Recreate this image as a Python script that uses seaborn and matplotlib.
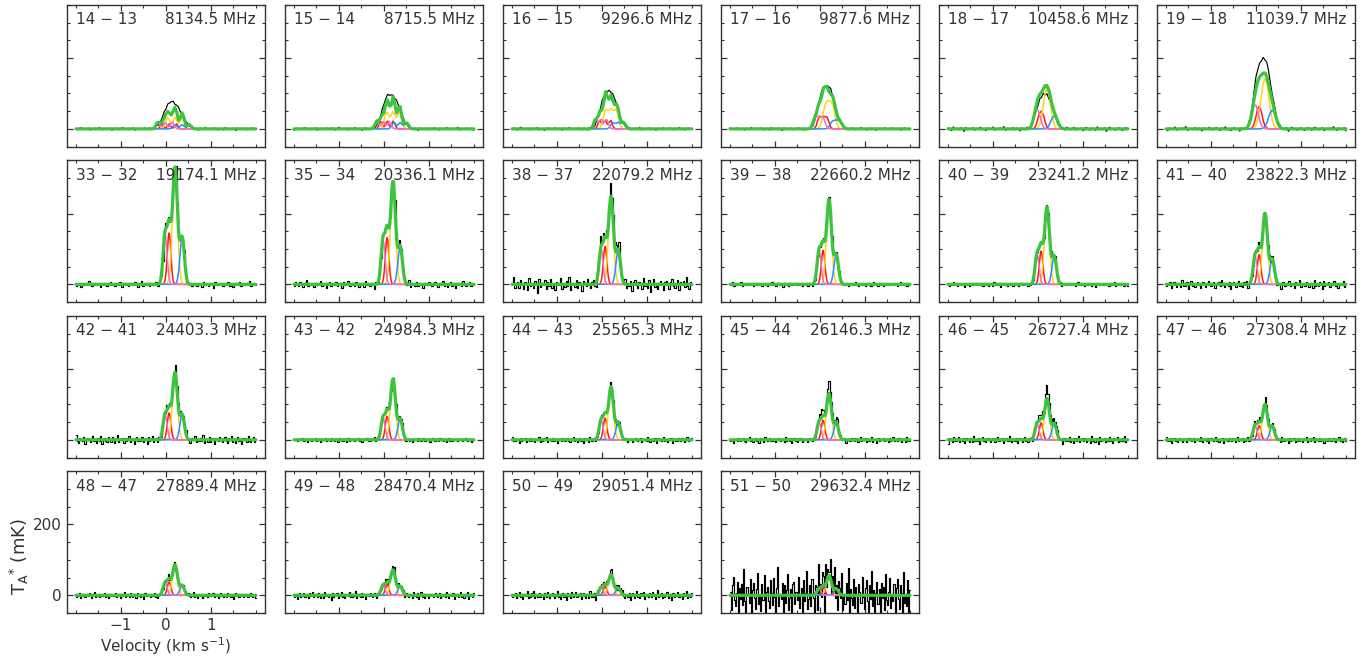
import numpy as np
import pandas as pd
import matplotlib
matplotlib.use("Agg")
import matplotlib.pyplot as plt
from matplotlib.ticker import MultipleLocator, FixedLocator
import seaborn as sns

# Rotational transitions and their rest frequencies (MHz)
transitions = ["14 − 13", "15 − 14", "16 − 15", "17 − 16", "18 − 17", "19 − 18",
               "33 − 32", "35 − 34", "38 − 37", "39 − 38", "40 − 39", "41 − 40",
               "42 − 41", "43 − 42", "44 − 43", "45 − 44", "46 − 45", "47 − 46",
               "48 − 47", "49 − 48", "50 − 49", "51 − 50"]
freqs_mhz = [8134.5, 8715.5, 9296.6, 9877.6, 10458.6, 11039.7,
             19174.1, 20336.1, 22079.2, 22660.2, 23241.2, 23822.3,
             24403.3, 24984.3, 25565.3, 26146.3, 26727.4, 27308.4,
             27889.4, 28470.4, 29051.4, 29632.4]

# Velocity components of the fit: centre (km/s), base width (km/s)
comp_names = ["red", "gold", "blue", "pink"]
comp_centers = [0.07, 0.20, 0.36, -0.02]
comp_sigmas = [0.040, 0.055, 0.050, 0.045]

# Peak brightness of each component per transition (mK)
amp_red = [14, 22, 24, 36, 50, 64, 145, 132, 107, 96, 94, 84,
           76, 67, 61, 55, 48, 40, 38, 30, 25, 22]
amp_gold = [33, 50, 58, 80, 114, 142, 330, 290, 248, 240, 218, 200,
            190, 172, 150, 131, 117, 100, 86, 72, 58, 56]
amp_blue = [12, 18, 19, 25, 36, 53, 130, 105, 95, 82, 78, 70,
            70, 58, 48, 48, 45, 38, 27, 25, 20, 18]
amp_pink = [17, 22, 26, 36, 53, 67, 140, 125, 100, 95, 85, 80,
            70, 62, 55, 50, 45, 40, 35, 28, 22, 18]

# Line broadening and hyperfine splitting (km/s) of the low-J lines
width_scale = [0.85, 0.85, 0.9, 1.0, 1.15, 1.6] + [1.0] * 16
hfs_split = [0.16, 0.14, 0.12, 0.09, 0.05, 0.0] + [0.0] * 16

# Observed spectra: peak (mK), width scale of the blended profile, rms noise (mK)
obs_peak = [76, 97, 107, 122, 98, 200, 335, 300, 281, 245, 222, 204,
            205, 178, 155, 162, 144, 115, 90, 82, 68, 70]
obs_width = [2.2, 2.0, 1.8, 1.7, 1.6, 1.6] + [1.0] * 16
noise_rms = [2, 2, 2, 2, 3, 3, 4, 5, 10, 3, 3, 6,
             6, 3, 4, 4, 5, 4, 4, 5, 6, 35]
noise_offset = [0, 20, 40, 60, 80, 100, 5, 37, 71, 103, 129, 151,
                13, 47, 83, 117, 141, 163, 29, 55, 91, 0]

# Channel residual pattern (units of rms)
residuals = [0.3, -1.2, 0.8, 1.5, -0.4, -0.9, 0.2, 1.1, -1.7, 0.6,
             -0.3, 0.9, -0.8, 2.1, -0.5, -1.4, 0.7, 0.1, -0.6, 1.3,
             -2.0, 0.4, 1.0, -0.2, -1.1, 0.5, 1.8, -0.7, 0.0, -1.3,
             0.9, -0.4, 1.6, -1.9, 0.3, 0.7, -0.5, -1.0, 1.2, 0.2,
             -0.8, 1.4, -0.1, -1.6, 0.6, 2.3, -0.9, 0.1, -0.3, 1.0,
             -1.5, 0.8, -0.6, 0.4, 1.7, -1.2, -0.2, 0.5, -2.2, 0.9,
             1.1, -0.7, 0.3, -0.4, 1.5, -1.0, 0.0, 0.6, -1.8, 1.2,
             -0.5, 0.2, 2.0, -1.1, -0.3, 0.8, -0.9, 1.3, -0.2, -1.4,
             0.7, 0.4, -1.6, 1.9, -0.6, 0.1, -1.0, 0.9, 0.5, -2.4,
             1.4, -0.8, 0.3, -0.1, 1.1, -1.3, 0.6, -0.5, 1.6, -0.9,
             0.2, -1.7, 0.8, 0.4, -0.3, 1.8, -1.2, 0.0, -0.7, 1.0,
             -0.4, 2.2, -1.5, 0.5, -0.2, -0.8, 1.3, -1.0, 0.7, 0.1,
             -1.9, 0.9, 0.3, -0.6, 1.5, -0.1, -1.1, 0.6, 1.2, -0.5,
             -1.4, 0.8, -0.3, 2.0, -0.9, 0.4, -1.6, 0.2, 1.1, -0.7,
             0.5, -2.1, 1.0, -0.2, 0.7, -1.2, 1.7, -0.4, -0.8, 0.3,
             1.4, -1.0, 0.1, -0.5, 0.9, -1.8, 0.6, 1.3, -0.3, -1.1,
             0.8, 0.2, -1.4, 1.9, -0.6, 0.0, -0.9, 1.2, -2.3, 0.4,
             1.6, -0.7, 0.5, -1.3, 0.3, 1.0, -0.2, -1.5, 0.7, 0.9]

# Tick positions
vel_major_ticks = [-1, 0, 1]
tmb_major_step = 200

COLORS = {"red": "#ff1a1a", "gold": "#ffd21f", "blue": "#2a8cff",
          "pink": "#f36fc4", "fit": "#3cc43c", "obs": "black"}
V_EDGE = 2.0           # velocity coverage of the spectra (km/s)
CHAN_CONST = 700.0     # channel width (km/s) times frequency (MHz), high-J band
LOWJ_CHAN = 0.04       # channel width of the low-frequency band (km/s)
FINE_CHAN = 0.015      # model evaluation step for the high-J band (km/s)

sns.set_theme(style="ticks")
plt.rcParams["font.family"] = ["DejaVu Sans"]
plt.rcParams["mathtext.fontset"] = "dejavusans"
TEXT = "#333333"


def line_profile(v, center, sigma, split):
    offs = [-split, 0.0, split] if split > 0 else [0.0]
    p = sum(np.exp(-0.5 * ((v - center - o) / sigma) ** 2) for o in offs)
    return p / p.max()


def vgrid(step):
    n = int(round(2 * V_EDGE / step)) + 1
    return np.linspace(-V_EDGE, V_EDGE, n)


fig, axes = plt.subplots(4, 6, figsize=(13.72, 6.57), dpi=100)
fig.subplots_adjust(left=0.0488, right=0.9876, top=0.9924, bottom=0.067,
                    wspace=0.101, hspace=0.098)

amps = [amp_red, amp_gold, amp_blue, amp_pink]
resid = np.array(residuals)

for i, (lab, f) in enumerate(zip(transitions, freqs_mhz)):
    ax = axes.flat[i]
    low_j = f < 15000
    v_obs = vgrid(LOWJ_CHAN if low_j else CHAN_CONST / f)
    v_fit = v_obs if low_j else vgrid(FINE_CHAN)

    comps = []
    blend = np.zeros_like(v_obs)
    for k in range(4):
        sig = comp_sigmas[k] * width_scale[i]
        comps.append(amps[k][i] * line_profile(v_fit, comp_centers[k], sig, hfs_split[i]))
        blend += amps[k][i] * line_profile(v_obs, comp_centers[k],
                                           comp_sigmas[k] * obs_width[i], 0.0)
    fit = np.sum(comps, axis=0)
    n = len(v_obs)
    idx = (noise_offset[i] + np.arange(n)) % len(resid)
    obs = blend / blend.max() * obs_peak[i] + noise_rms[i] * resid[idx]

    obs_df = pd.DataFrame({"v": v_obs, "T": obs})
    fit_df = pd.DataFrame({"v": v_fit, "T": fit})
    style = "default" if low_j else "steps-mid"
    sns.lineplot(data=obs_df, x="v", y="T", ax=ax, color=COLORS["obs"], lw=0.85,
                 drawstyle=style, estimator=None, sort=False, errorbar=None)
    for k, name in enumerate(comp_names):
        sns.lineplot(x=v_fit, y=comps[k], ax=ax, color=COLORS[name], lw=1.1,
                     estimator=None, sort=False, errorbar=None)
    sns.lineplot(data=fit_df, x="v", y="T", ax=ax, color=COLORS["fit"], lw=2.3,
                 estimator=None, sort=False, errorbar=None)

    ax.set_xlim(-2.2, 2.2)
    ax.set_ylim(-50, 350)
    ax.xaxis.set_major_locator(FixedLocator(vel_major_ticks))
    ax.xaxis.set_minor_locator(MultipleLocator(0.5))
    ax.yaxis.set_major_locator(MultipleLocator(tmb_major_step))
    ax.yaxis.set_minor_locator(MultipleLocator(50))
    ax.tick_params(which="both", direction="in", top=True, right=True,
                   colors=TEXT, labelsize=11, labelcolor=TEXT)
    ax.tick_params(which="major", length=4, width=0.9)
    ax.tick_params(which="minor", length=2.5, width=0.8)
    for sp in ax.spines.values():
        sp.set_color(TEXT)
        sp.set_linewidth(1.0)

    ax.text(0.045, 0.895, lab, transform=ax.transAxes, ha="left", va="center",
            fontsize=11, color=TEXT)
    ax.text(0.955, 0.895, f"{f:.1f} MHz", transform=ax.transAxes, ha="right",
            va="center", fontsize=11, color=TEXT)

    if i == 18:
        ax.set_xlabel(r"Velocity (km s$^{-1}$)", fontsize=11, color=TEXT, labelpad=2)
        ax.set_ylabel(r"$\mathrm{T_A}^{*}$ (mK)", fontsize=13, color=TEXT)
        ax.yaxis.set_label_coords(-0.18, 0.40)
    else:
        ax.set_xlabel("")
        ax.set_ylabel("")
        ax.tick_params(labelbottom=False, labelleft=False)

for ax in axes.flat[len(transitions):]:
    fig.delaxes(ax)

fig.savefig("out.png", dpi=100)
